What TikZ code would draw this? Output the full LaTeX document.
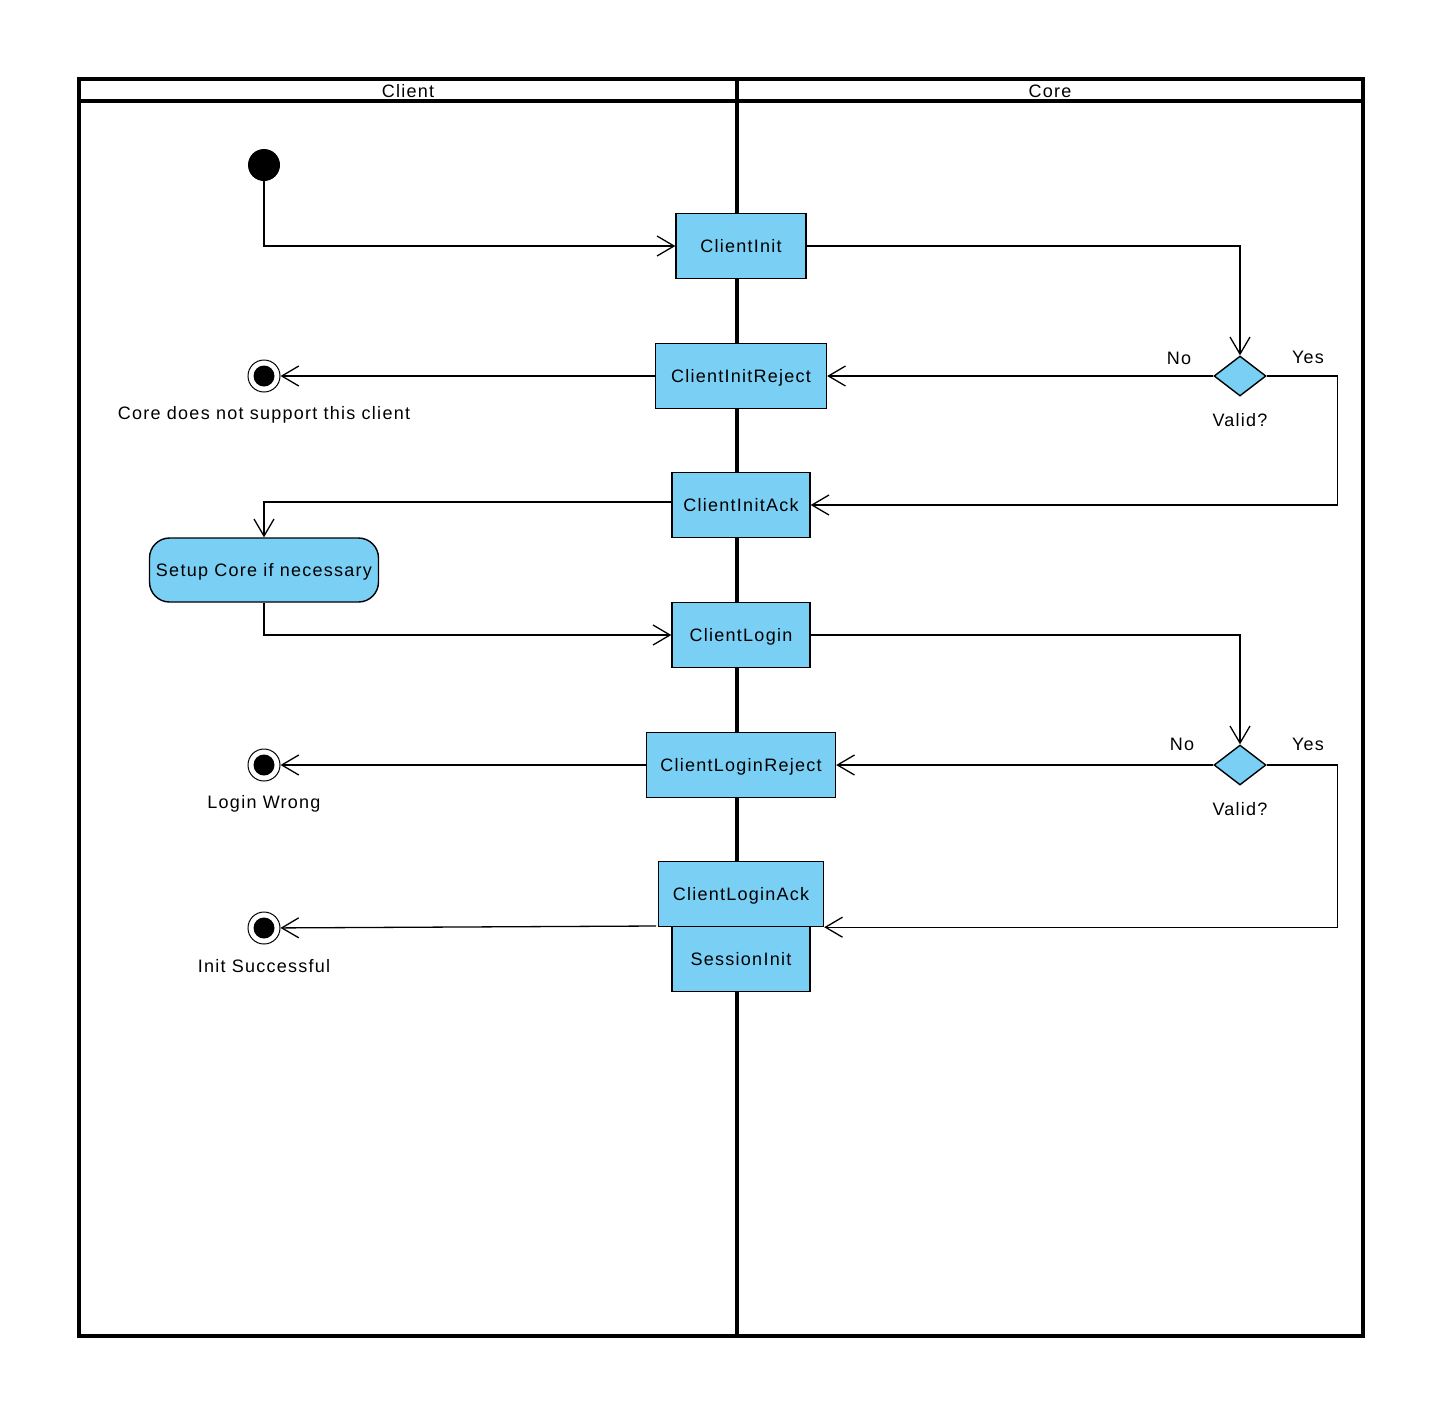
\documentclass[tikz,border=0pt]{standalone}
\usepackage{fontspec}
\setmainfont{Liberation Sans}[LetterSpace=7]
\usetikzlibrary{arrows.meta,shapes.geometric}
\definecolor{actblue}{RGB}{122,207,244}
\begin{document}
\begin{tikzpicture}[x=1pt,y=-1pt,
  font=\fontsize{18}{20}\selectfont,
  act/.style={draw, fill=actblue, line width=1.4pt, minimum height=65pt, inner sep=0pt, text depth=0pt, text height=12.9pt},
  ract/.style={act, rounded corners=20pt},
  decis/.style={draw, fill=actblue, line width=1.4pt, diamond, minimum width=52pt, minimum height=40pt, inner sep=0pt},
  startst/.style={circle, fill=black, minimum size=32pt, inner sep=0pt},
  finalst/.style={circle, draw, line width=1pt, minimum size=32pt, inner sep=0pt, path picture={\fill[black] (path picture bounding box.center) circle (10.5pt);}},
  conn/.style={line width=1.3pt, -{Straight Barb[length=17pt,width=20pt,line width=1.3pt]}},
  lane/.style={line width=3.2pt},
  lbl/.style={inner sep=0pt}]
\useasboundingbox (0,0) rectangle (1444,1406);
% swimlanes
\draw[lane] (79,79) rectangle (1363,1336);
\draw[lane] (79,101) -- (1363,101);
\draw[lane] (737,79) -- (737,1336);
\node[lbl] (hclient) at (408,91) {Client};
\node[lbl] (hcore) at (1050,91) {Core};
% nodes
\node[startst] (start) at (264,165) {};
\node[act, minimum width=130pt] (ci) at (741,246) {ClientInit};
\node[act, minimum width=171pt] (cir) at (741,376) {ClientInitReject};
\node[act, minimum width=138pt] (cia) at (741,505) {ClientInitAck};
\node[ract, minimum width=229pt, minimum height=64pt] (setup) at (264,570) {Setup Core if necessary};
\node[act, minimum width=138pt] (cl) at (741,635) {ClientLogin};
\node[act, minimum width=189pt] (clr) at (741,765) {ClientLoginReject};
\node[act, minimum width=165pt] (cla) at (741,894) {ClientLoginAck};
\node[act, minimum width=138pt] (si) at (741,959) {SessionInit};
\node[decis] (d1) at (1240,376) {};
\node[decis] (d2) at (1240,765) {};
\node[finalst] (f1) at (264,376) {};
\node[finalst] (f2) at (264,765) {};
\node[finalst] (f3) at (264,928) {};
% labels
\node[lbl] (lf1) at (264,415) {Core does not support this client};
\node[lbl] (lf2) at (264,804) {Login Wrong};
\node[lbl] (lf3) at (264,966) {Init Successful};
\node[lbl] (v1) at (1240,420) {Valid?};
\node[lbl] (v2) at (1240,809) {Valid?};
\node[lbl] (no1) at (1179,358) {No};
\node[lbl] (yes1) at (1308,357) {Yes};
\node[lbl] (no2) at (1182,744) {No};
\node[lbl] (yes2) at (1308,744) {Yes};
\coordinate (lastout) at (656,926);
% connectors
\draw[conn] (start) |- (ci.west);
\draw[conn] (ci.east) -| (d1.north);
\draw[conn] (d1.west) -- (cir.east);
\draw[conn] (cir.west) -- (f1);
\draw[conn] (d1.east) -- ++(71,0) |- (cia.east);
\draw[conn] ([yshift=3pt]cia.west) -| (setup.north);
\draw[conn] (setup.south) |- (cl.west);
\draw[conn] (cl.east) -| (d2.north);
\draw[conn] (d2.west) -- (clr.east);
\draw[conn] (clr.west) -- (f2);
\draw[conn] (d2.east) -- ++(71,0) |- (cla.south east);
\draw[conn] (lastout) -- (f3);
\end{tikzpicture}
\end{document}
